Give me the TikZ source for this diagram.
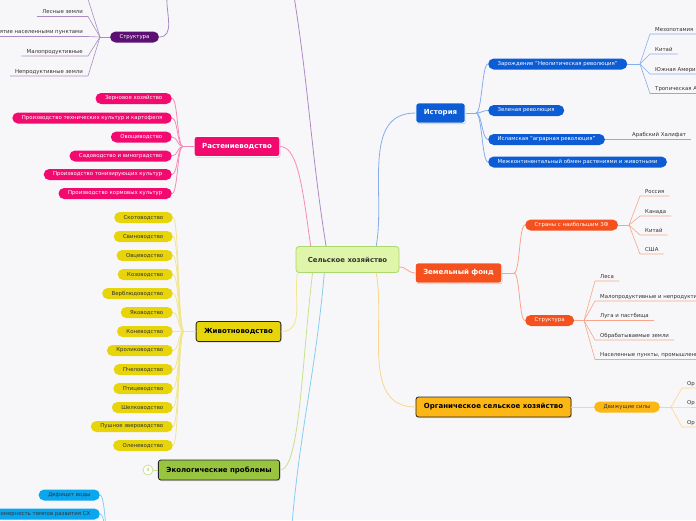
\documentclass[tikz,border=0pt]{standalone}
\usepackage{fontspec}
\setmainfont{DejaVu Sans}
\usepackage{tikz}
\usetikzlibrary{shadows}
\usepackage{xcolor}
\definecolor{bgc}{HTML}{F7F7FA}
\definecolor{rootc}{HTML}{DFF5A9}
\definecolor{rootb}{HTML}{ABD86D}
\definecolor{histc}{HTML}{0B5CD5}
\definecolor{histl}{HTML}{86ACEB}
\definecolor{zemc}{HTML}{F4511E}
\definecolor{zeml}{HTML}{F8A58B}
\definecolor{orgc}{HTML}{FDB714}
\definecolor{orgl}{HTML}{FDD58A}
\definecolor{rastc}{HTML}{F20A6F}
\definecolor{rastl}{HTML}{F58AB6}
\definecolor{zhivc}{HTML}{E8D40A}
\definecolor{zhivl}{HTML}{F2E58C}
\definecolor{ecoc}{HTML}{98C440}
\definecolor{ecol}{HTML}{C6E08E}
\definecolor{purc}{HTML}{5C1172}
\definecolor{purl}{HTML}{AB8CC2}
\definecolor{skyc}{HTML}{0AA6EE}
\definecolor{skyl}{HTML}{84CFF2}
\definecolor{leaftxt}{HTML}{333333}

\begin{document}
\begin{tikzpicture}[x=1pt, y=1pt,
  root/.style={draw=rootb, fill=rootc, line width=0.8pt, rounded corners=3pt,
               minimum width=103pt, minimum height=26pt, text=leaftxt,
               font=\fontsize{6.9}{8}\selectfont\bfseries},
  topic/.style={rounded corners=2.5pt, minimum height=20pt, inner xsep=8pt,
                line width=0.8pt, font=\fontsize{7}{8}\selectfont\bfseries,
                drop shadow={shadow xshift=0.8pt, shadow yshift=-1.2pt, opacity=0.3}},
  pill/.style={rounded corners=5.5pt, minimum height=11pt, inner xsep=9.5pt,
               inner ysep=0pt, font=\fontsize{5.4}{6}\selectfont},
  leaf/.style={inner xsep=5pt, inner ysep=1.6pt, text height=4pt, text depth=1.2pt,
               text=leaftxt, font=\fontsize{5.4}{6}\selectfont},
  link/.style={line width=0.8pt},
  twig/.style={line width=0.6pt}
]
\useasboundingbox (0,0) rectangle (696,-520);
\clip (0,0) rectangle (696,-520);
\fill[bgc] (0,0) rectangle (696,-520);

% centre and main topics
\node[root] (root) at (347.5,-259.5) {Сельское хозяйство};
\node[topic, fill=histc, draw=white, text=white] (hist) at (440.5,-113) {История};
\node[topic, fill=zemc, draw=white, text=white] (zem) at (458.5,-273) {Земельный фонд};
\node[topic, fill=orgc, draw=black!85, text=black] (org) at (493.5,-407) {Органическое сельское хозяйство};
\node[topic, fill=rastc, draw=white, text=white] (rast) at (237,-146.5) {Растениеводство};
\node[topic, fill=zhivc, draw=black!85, text=black] (zhiv) at (238.5,-331.5) {Животноводство};
\node[topic, fill=ecoc, draw=black!85, text=black] (eco) at (219,-470) {Экологические проблемы};

% ends that leave the page
\coordinate (purtop) at (294,4);
\coordinate (skybot) at (292,-524);
\coordinate (strtop) at (167,4);
\coordinate (strleaf) at (87,4);
\coordinate (skyj) at (111,-550);

\draw[link, histl] (root.25) to[out=80,in=180] (hist.west);
\draw[link, zeml] (root.-8) to[out=0,in=180] (zem.west);
\draw[link, orgl] (root.-25) to[out=-80,in=180] (org.west);
\draw[link, rastl] (root.160) to[out=98,in=0,out distance=55pt,in distance=18pt] (rast.east);
\draw[link, zhivl] (root.195) to[out=-100,in=0] (zhiv.east);
\draw[link, ecol] (root.201) to[out=-97,in=0,out distance=90pt,in distance=20pt] (eco.east);
\draw[link, purl] (root.148) to[out=99,in=-81] (purtop);
\draw[link, skyl] (root.210) to[out=-95,in=85] (skybot);

% История
\coordinate (jh) at (476,-113);
\draw[link, histl] (hist.east) -- (jh);
\foreach \t/\y [count=\i] in {{Зарождение "Неолитическая революция"}/64, Зеленая революция/110.5,
    {Исламская "аграрная революция"}/139.5, Межконтинентальный обмен растениями и животными/162}{
  \node[pill, fill=histc, text=white, anchor=west] (h\i) at (488,-\y) {\t};
  \draw[link, histl] (jh) to[out=0,in=180,distance=6pt] (h\i.west);}
\coordinate (jh1) at (640,-64);
\draw[link, histl] (h1.east) -- (jh1);
\foreach \t/\y [count=\i] in {Мезопотамия/34, Китай/54, Южная Америка/74, Тропическая Африка/93.5}{
  \node[leaf, anchor=south west] (hz\i) at (650,-\y) {\t};
  \draw[twig, histl] (jh1) -- (hz\i.south west) -- (hz\i.south east);}
\node[leaf, anchor=south west] (hx) at (627,-139.5) {Арабский Халифат};
\draw[twig, histl] (h3.east) -- (hx.south west) -- (hx.south east);

% Земельный фонд
\coordinate (jz) at (514,-273);
\draw[link, zeml] (zem.east) -- (jz);
\node[pill, fill=zemc, text=white, anchor=west] (z1) at (525,-225) {Страны с наибольшим ЗФ};
\node[pill, fill=zemc, text=white, anchor=west] (z2) at (525,-320.5) {Структура};
\foreach \n in {z1,z2}
  \draw[link, zeml] (jz) to[out=0,in=180,distance=6pt] (\n.west);
\coordinate (jz1) at (629,-225);
\draw[link, zeml] (z1.east) -- (jz1);
\foreach \t/\y [count=\i] in {Россия/196, Канада/216, Китай/235, США/254}{
  \node[leaf, anchor=south west] (zs\i) at (640,-\y) {\t};
  \draw[twig, zeml] (jz1) -- (zs\i.south west) -- (zs\i.south east);}
\coordinate (jz2) at (584,-320.5);
\draw[link, zeml] (z2.east) -- (jz2);
\foreach \t/\y [count=\i] in {Леса/281, Малопродуктивные и непродуктивные земли/301,
    Луга и пастбища/320.5, Обрабатываемые земли/340, {Населенные пункты, промышленные}/359.5}{
  \node[leaf, anchor=south west] (zt\i) at (595,-\y) {\t};
  \draw[twig, zeml] (jz2) -- (zt\i.south west) -- (zt\i.south east);}

% Органическое сельское хозяйство
\node[pill, fill=orgc, text=leaftxt] (ds) at (627,-407) {Движущие силы};
\draw[link, orgl] (org.east) -- (ds.west);
\coordinate (jo) at (671,-407);
\draw[link, orgl] (ds.east) -- (jo);
\foreach \y [count=\i] in {388,407,427}{
  \node[leaf, anchor=south west] (os\i) at (682,-\y) {Ор};
  \draw[twig, orgl] (jo) -- (os\i.south west) -- (os\i.south east);}

% Растениеводство
\coordinate (jr) at (183,-146.5);
\draw[link, rastl] (rast.west) -- (jr);
\foreach \t/\y [count=\i] in {Зерновое хозяйство/98.5, Производство технических культур и картофеля/118,
    Овощеводство/137, Садоводство и виноградство/156, Производство тонизирующих культур/174.5,
    Производство кормовых культур/193.5}{
  \node[pill, fill=rastc, text=white, anchor=east] (r\i) at (172,-\y) {\t};
  \draw[link, rastl] (jr) to[out=180,in=0,distance=6pt] (r\i.east);}

% Животноводство
\coordinate (jv) at (184,-331.5);
\draw[link, zhivl] (zhiv.west) -- (jv);
\foreach \t [count=\i] in {Скотоводство, Свиноводство, Овцеводство, Козоводство, Верблюдоводство,
    Яководство, Коневодство, Кролиководство, Пчеловодство, Птицеводство, Шелководство,
    Пушное звероводство, Оленеводство}{
  \node[pill, fill=zhivc, text=leaftxt, anchor=east] (v\i) at (173,{-198.5-19*\i}) {\t};
  \draw[link, zhivl] (jv) to[out=180,in=0,distance=6pt] (v\i.east);}

% Экологические проблемы
\node[circle, draw=ecol, fill=white, line width=0.7pt, minimum size=10pt, inner sep=0pt,
      text=ecoc, font=\fontsize{4.5}{5}\selectfont] (eco4) at (148,-470) {4};
\draw[link, ecol] (eco4) -- (eco.west);

% Структура (top left)
\node[pill, fill=purc, text=white] (str) at (134.5,-37) {Структура};
\draw[link, purl] (str.east) to[out=0,in=-95] (strtop);
\coordinate (jp) at (100,-37);
\draw[link, purl] (str.west) -- (jp);
\draw[twig, purl] (jp) -- (strleaf);
\foreach \t/\y [count=\i] in {Лесные земли/16.5, ятие населенными пунктами/36.5,
    Малопродуктивные/56, Непродуктивные земли/76}{
  \node[leaf, anchor=south east] (ps\i) at (88,-\y) {\t};
  \draw[twig, purl] (jp) -- (ps\i.south east) -- (ps\i.south west);}

% bottom left
\node[pill, fill=skyc, text=leaftxt, anchor=east] (sk1) at (100,-495) {Дефицит воды};
\node[pill, fill=skyc, text=leaftxt, anchor=east] (sk2) at (100,-514) {Неравномерность темпов развития СХ};
\foreach \n in {sk1,sk2}
  \draw[link, skyl] (skyj) to[out=180,in=0,distance=6pt] (\n.east);
\end{tikzpicture}
\end{document}
